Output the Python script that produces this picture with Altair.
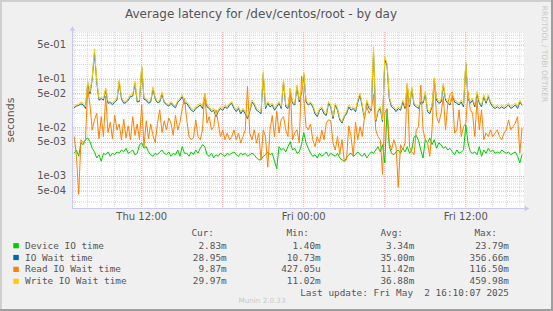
import altair as alt
import pandas as pd

# ---------------- data (milliseconds, one sample every 10 minutes from Thu 07:00) ----------------
device_ms = [
    3.0, 3.5, 2.6, 4.9, 4.5, 5.7, 6.2, 5.2, 3.8, 3.2, 2.4, 2.8, 2.05, 3.0, 2.8, 3.2, 2.6, 3.0, 2.8, 3.2,
    3.0, 3.5, 3.2, 3.8, 3.0, 3.2, 3.5, 2.8, 3.0, 4.5, 4.9, 3.8, 4.1, 3.2, 2.8, 2.6, 3.0, 2.8, 3.2, 3.5,
    3.0, 2.8, 3.2, 2.6, 3.0, 2.8, 3.5, 2.6, 4.1, 3.0,
    3.0, 2.6, 3.2, 2.8, 3.5, 3.0, 3.8, 4.5, 4.1, 2.8, 2.6, 3.0, 2.4, 2.8, 2.6, 3.0, 2.8, 2.6, 3.0, 2.8,
    3.0, 3.2, 2.8, 2.6, 3.0, 2.8, 3.0, 2.6, 2.8, 3.0, 2.8, 2.4, 2.2, 2.2, 2.6, 2.8, 3.2, 2.8, 3.0, 2.05,
    1.45, 4.1, 3.5, 3.8, 3.2, 4.1, 5.2, 3.5, 3.8, 3.0, 3.2,
    4.5, 8.0, 4.9, 3.8, 3.0, 2.6, 2.8, 2.4, 3.0, 2.6, 2.8, 3.2, 2.6, 3.0, 2.8, 2.6, 3.0, 2.4, 2.2, 2.05,
    2.4, 2.8, 3.0, 2.6, 2.8, 3.2, 2.8, 2.6, 3.0, 2.4, 2.8, 3.2, 3.0, 3.5, 4.1, 3.2, 4.5, 1.9, 23.8, 4.1,
    3.0, 2.8, 3.2, 3.5, 3.0, 3.8, 3.2, 4.1, 3.0, 3.5,
    6.5, 7.0, 5.5, 3.5, 2.4, 5.7, 4.9, 6.2, 4.5, 5.7, 3.8, 4.9, 4.5, 3.8, 4.1, 3.5, 3.8, 3.2, 2.8, 3.5,
    3.0, 3.2, 3.5, 11.5, 4.9, 3.2, 3.0, 3.2, 2.8, 4.1, 2.6, 3.5, 3.0, 3.8, 3.2, 3.5, 3.0, 3.2, 3.0, 3.5,
    3.2, 3.0, 3.2, 2.8, 3.0, 3.2, 2.6, 1.9, 2.83,
]
iowait_ms = [
    26, 28, 29, 31, 30, 25, 82, 50, 100, 350, 88, 37, 40, 37, 60, 32, 33, 30, 34, 37,
    88, 39, 32, 33, 37, 44, 45, 82, 34, 35, 172, 39, 37, 32, 34, 64, 39, 33, 34, 50,
    33, 30, 28, 32, 28, 26, 34, 37, 44, 32,
    32, 27, 23, 21.5, 25, 27, 29.5, 25, 47, 27, 25, 21.5, 23, 17, 21.5, 25, 23, 27, 25, 29.5,
    32, 25, 21.5, 25, 19.5, 23, 19.5, 15.5, 21.5, 34, 29.5, 23, 21.5, 19.5, 125, 25, 32, 27, 29.5, 23,
    27, 32, 25, 88, 27, 25, 59, 32, 29.5, 69, 34,
    55, 125, 34, 29.5, 32, 27, 19.5, 17, 23, 25, 19.5, 18, 32, 27, 15.5, 29.5, 23, 14.5, 12.5, 17,
    19.5, 27, 23, 25, 21.5, 34, 47, 27, 15.5, 34, 25, 23, 356, 13.5, 21.5, 25, 13.5, 250, 190, 40,
    27, 25, 21.5, 25, 23, 34, 25, 75, 27, 63,
    29.5, 27, 25, 34, 32, 50, 21.5, 19.5, 27, 95, 37, 32, 34, 75, 37, 32, 29.5, 47, 34, 32,
    29.5, 34, 27, 205, 40, 32, 37, 27, 50, 32, 27, 44, 32, 44, 32, 27, 25, 27, 25, 27,
    25, 27, 29.5, 25, 27, 29.5, 25, 34, 28.95,
]
read_ms = [
    6.6, 2.6, 0.43, 5.7, 4.9, 5.7, 65, 30, 9.1, 14.6, 20, 6, 17, 6.6, 45, 8, 13, 6, 18, 9,
    12, 5.7, 15, 6.2, 11, 5.7, 17, 7, 12, 5.7, 30, 4.1, 14, 6, 12, 7, 5, 12.5, 23.5, 8,
    14, 9.1, 16, 12.5, 7, 18, 9, 13, 25, 40,
    15, 6.6, 5.7, 6.2, 14.6, 6.6, 5.7, 9.1, 52, 12.5, 17, 9.1, 10.6, 23.5, 12.5, 6.6, 9.1, 5.7, 7.8, 5.7,
    6.6, 9.1, 5.7, 7.8, 4.9, 6.6, 9.1, 71, 7.8, 5.7, 9.1, 4.9, 7.8, 2.2, 9.1, 6.6, 1.55, 9.1, 18, 6.6,
    22, 7.8, 15, 17, 9.1, 6.6, 65, 5.7, 7.8, 9.1, 4.9,
    116.5, 40, 10.6, 9.1, 12, 5.7, 4.1, 6.6, 4.9, 9, 5.7, 12.5, 14.6, 14, 4.9, 3.5, 6.6, 2.8, 5.7, 2.05,
    2.2, 11, 6.6, 2.6, 13, 5.7, 10.6, 6.6, 17, 27.4, 20, 23.5, 48, 9.1, 6.6, 5.7, 1.1, 20, 25, 4.9,
    3.5, 5.7, 4.1, 0.6, 4.5, 3.5, 4.9, 80, 4.1, 3.2,
    2.8, 9.1, 10.6, 76, 9.1, 5.7, 4.9, 2.6, 9.1, 105, 17, 12.5, 20, 44, 9.1, 32, 48, 55, 7.8, 9.1,
    23.5, 6.6, 10.6, 12.5, 55, 23.5, 20, 6.6, 37.6, 9.1, 23.5, 5.7, 7.8, 6.6, 9.1, 6.6, 7.8, 9.1, 6.6, 5.7,
    7.8, 9.1, 14.6, 9.1, 10.6, 12.5, 17, 3.0, 9.87,
]
write_ms = [
    28, 30, 31, 34, 32, 27, 90, 55, 110, 420, 97, 40, 43, 40, 66, 35, 35, 32, 37, 40,
    97, 42, 35, 35, 40, 48, 48, 90, 37, 37, 190, 42, 40, 35, 37, 70, 42, 35, 37, 55,
    35, 32, 30, 35, 30, 28, 37, 40, 48, 35,
    34.8, 29.7, 25.4, 23.5, 27.4, 29.7, 32.2, 27.4, 52, 29.7, 27.4, 23.5, 25.4, 18.5, 23.5, 27.4, 25.4, 29.7, 27.4, 32.2,
    34.8, 27.4, 23.5, 27.4, 21.6, 25.4, 21.6, 17.1, 23.5, 37.6, 32.2, 25.4, 23.5, 21.6, 143, 27.4, 34.8, 29.7, 32.2, 25.4,
    29.7, 34.8, 27.4, 97, 29.7, 27.4, 65, 34.8, 32.2, 76, 37.6,
    60, 140, 37.6, 32.2, 34.8, 29.7, 21.6, 18.5, 25.4, 27.4, 21.6, 20, 34.8, 29.7, 17.1, 32.2, 25.4, 15.8, 13.5, 18.5,
    21.6, 29.7, 25.4, 27.4, 23.5, 37.6, 52, 29.7, 17.1, 37.6, 27.4, 25.4, 460, 14.6, 23.5, 27.4, 14.6, 290, 215, 44,
    29.7, 27.4, 23.5, 27.4, 25.4, 37.6, 27.4, 83, 29.7, 70,
    32.2, 29.7, 27.4, 37.6, 34.8, 56, 23.5, 21.6, 29.7, 105, 40.7, 34.8, 37.6, 83, 40.7, 34.8, 32.2, 52, 37.6, 34.8,
    32.2, 37.6, 29.7, 230, 44, 34.8, 40.7, 29.7, 56, 34.8, 29.7, 48, 34.8, 48, 34.8, 29.7, 27.4, 29.7, 27.4, 29.7,
    27.4, 29.7, 32.2, 27.4, 29.7, 32.2, 27.4, 37.6, 29.97,
]

series_names = ["Device IO time", "IO Wait time", "Read IO Wait time", "Write IO Wait time"]
series_colors = ["#00CC00", "#0066B3", "#FF8000", "#FFCC00"]
cur_vals = ["2.83m", "28.95m", "9.87m", "29.97m"]
min_vals = ["1.40m", "10.73m", "427.05u", "11.02m"]
avg_vals = ["3.34m", "35.00m", "11.42m", "36.88m"]
max_vals = ["23.79m", "356.66m", "116.50m", "459.98m"]

ytick_vals = [0.5, 0.1, 0.05, 0.01, 0.005, 0.001, 0.0005]
ytick_labels = ["5e-01", "1e-01", "5e-02", "1e-02", "5e-03", "1e-03", "5e-04"]
xtick_hours = [12, 24, 36]  # hours since Thu 00:00
xtick_labels = ["Thu 12:00", "Fri 00:00", "Fri 12:00"]

title_text = "Average latency for /dev/centos/root - by day"
last_update = "Last update: Fri May \u00a02 16:10:07 2025"

START_HOUR = 7.0
STEP_H = 10 / 60

n = len(write_ms)
assert len(device_ms) == n and len(iowait_ms) == n and len(read_ms) == n, (len(device_ms), len(iowait_ms), len(read_ms), n)
df = pd.DataFrame({
    "hour": [START_HOUR + k * STEP_H for k in range(n)],
    "device": [v / 1000 for v in device_ms],
    "iowait": [v / 1000 for v in iowait_ms],
    "read": [v / 1000 for v in read_ms],
    "write": [v / 1000 for v in write_ms],
})

# ---------------- scales ----------------
W, H = 451, 176
Y_MIN, Y_MAX = 2.245e-4, 0.936
XS = alt.Scale(domain=[6.91, 40.31], nice=False, zero=False)
YS = alt.Scale(type="log", domain=[Y_MIN, Y_MAX], nice=False)

SANS = "DejaVu Sans"
MONO = "DejaVu Sans Mono"
TXT = "#555555"

# ---------------- grid ----------------
major_hours = [h for h in range(7, 41) if h % 6 == 0]
minor_hours = [h for h in range(7, 41) if h % 6 != 0]
minor_y = [k * 10.0 ** e for e in (-4, -3, -2, -1) for k in (2, 3, 4, 6, 7, 8, 9)]
minor_y = [v for v in minor_y if Y_MIN < v < Y_MAX]

grid_minor_x = alt.Chart(pd.DataFrame({"hour": minor_hours})).mark_rule(
    color="#d4d4d4", strokeDash=[1, 1], strokeWidth=1
).encode(x=alt.X("hour:Q", scale=XS, axis=None))
grid_minor_y = alt.Chart(pd.DataFrame({"v": minor_y})).mark_rule(
    color="#d4d4d4", strokeDash=[1, 1], strokeWidth=1
).encode(y=alt.Y("v:Q", scale=YS, axis=None))
grid_major_x = alt.Chart(pd.DataFrame({"hour": major_hours})).mark_rule(
    color="#f0a0a0", strokeDash=[1, 1], strokeWidth=1
).encode(x=alt.X("hour:Q", scale=XS, axis=None))
grid_major_y = alt.Chart(pd.DataFrame({"v": ytick_vals})).mark_rule(
    color="#f0a0a0", strokeDash=[1, 1], strokeWidth=1
).encode(y=alt.Y("v:Q", scale=YS, axis=None))

# ---------------- series ----------------
cols = ["device", "iowait", "read", "write"]
lines = []
for col, color in zip(cols, series_colors):
    lines.append(
        alt.Chart(df).mark_line(color=color, strokeWidth=1, clip=True).encode(
            x=alt.X("hour:Q", scale=XS, axis=None),
            y=alt.Y(f"{col}:Q", scale=YS, axis=None),
        )
    )

# ---------------- axes ----------------
ylabels = alt.Chart(pd.DataFrame({"v": ytick_vals, "label": ytick_labels})).mark_text(
    align="right", baseline="middle", font=SANS, fontSize=10, color=TXT
).encode(y=alt.Y("v:Q", scale=YS, axis=None), x=alt.value(-7), text="label:N")

xlabels = alt.Chart(pd.DataFrame({"hour": xtick_hours, "label": xtick_labels})).mark_text(
    align="center", baseline="middle", font=SANS, fontSize=10, color=TXT
).encode(x=alt.X("hour:Q", scale=XS, axis=None), y=alt.value(H + 8.5), text="label:N")

def one():
    return pd.DataFrame({"d": [0]})

AX = "#c8c8f0"
axis_y = alt.Chart(one()).mark_rule(color=AX, strokeWidth=1).encode(
    x=alt.value(-0.5), y=alt.value(-2), y2=alt.value(H))
axis_x = alt.Chart(one()).mark_rule(color=AX, strokeWidth=1).encode(
    x=alt.value(-1), x2=alt.value(W + 1), y=alt.value(H + 0.5))
arrow_up = alt.Chart(one()).mark_point(shape="triangle-up", filled=True, size=30, color=AX, opacity=1).encode(
    x=alt.value(-0.5), y=alt.value(-3.5))
arrow_right = alt.Chart(one()).mark_point(shape="triangle-right", filled=True, size=30, color=AX, opacity=1).encode(
    x=alt.value(W + 3), y=alt.value(H + 0.5))

# ---------------- texts ----------------
def text(s, x, y, align="left", font=SANS, size=10, color=TXT, angle=0):
    kw = dict(align=align, baseline="middle", font=font, fontSize=size, color=color)
    if angle:
        kw["angle"] = angle
    return alt.Chart(pd.DataFrame({"t": [s]})).mark_text(**kw).encode(
        text="t:N", x=alt.value(x), y=alt.value(y))

OX, OY = 73, 32  # plot origin inside the 553x311 canvas

texts = [
    text(title_text, 261 - OX, 14 - OY, align="center", size=12),
    text("seconds", 11 - OX, 120 - OY, align="center", size=11, angle=270),
    text("RRDTOOL / TOBI OETIKER", 544 - OX, 54 - OY, align="center", size=7.5, color="#c8c8c8", angle=90),
    text("Munin 2.0.33", 262 - OX, 301 - OY, align="center", size=7.2, color="#c8c8c8"),
]
LEG_SIZE = 9.4
hdr_y = 233.3 - OY
for label, xr in zip(["Cur:", "Min:", "Avg:", "Max:"], [214, 309, 403, 497]):
    texts.append(text(label, xr - OX, hdr_y, align="right", font=MONO, size=LEG_SIZE))
row_y = [245.7, 257.5, 269.4, 281.3]
squares = []
for i in range(4):
    y = row_y[i] - OY
    squares.append(
        alt.Chart(one()).mark_rect(color=series_colors[i]).encode(
            x=alt.value(13.3 - OX), x2=alt.value(18.8 - OX),
            y=alt.value(y - 2.6), y2=alt.value(y + 2.6))
    )
    texts.append(text(series_names[i], 25 - OX, y, font=MONO, size=LEG_SIZE))
    for vals, xr in zip([cur_vals, min_vals, avg_vals, max_vals], [226.7, 320.7, 414.3, 509]):
        texts.append(text(vals[i], xr - OX, y, align="right", font=MONO, size=LEG_SIZE))
texts.append(text(last_update, 509 - OX, 293.4 - OY, align="right", font=MONO, size=LEG_SIZE))

# ---------------- frame ----------------
frame = [
    alt.Chart(one()).mark_rule(color="#cfcfcf", strokeWidth=2).encode(
        x=alt.value(-OX), x2=alt.value(553 - OX), y=alt.value(1 - OY)),
    alt.Chart(one()).mark_rule(color="#cfcfcf", strokeWidth=2).encode(
        x=alt.value(1 - OX), y=alt.value(-OY), y2=alt.value(311 - OY)),
    alt.Chart(one()).mark_rule(color="#9e9e9e", strokeWidth=2).encode(
        x=alt.value(-OX), x2=alt.value(553 - OX), y=alt.value(310 - OY)),
    alt.Chart(one()).mark_rule(color="#9e9e9e", strokeWidth=2).encode(
        x=alt.value(552 - OX), y=alt.value(-OY), y2=alt.value(311 - OY)),
]

chart = alt.layer(
    grid_minor_x, grid_minor_y, grid_major_x, grid_major_y,
    *lines,
    axis_y, axis_x, arrow_up, arrow_right,
    ylabels, xlabels,
    *squares, *texts, *frame,
).properties(
    width=W,
    height=H,
    background="#F0F0F0",
    padding={"left": OX, "top": OY, "right": 553 - OX - W, "bottom": 311 - OY - H},
    autosize=alt.AutoSizeParams(type="none"),
).configure_view(stroke=None, fill="white")

chart.save("out.html", embed_options={"renderer": "svg", "actions": False})
